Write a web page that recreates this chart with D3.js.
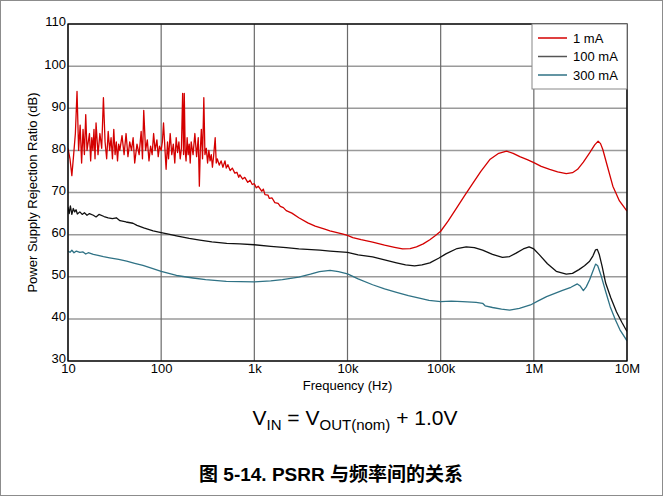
<!DOCTYPE html>
<meta charset="utf-8">
<style>
body { margin: 0; background: #fff; }
svg { display: block; font-family: "Liberation Sans", Arial, sans-serif; }
.tick text { font-size: 13px; fill: #000; }
</style>
<svg width="663" height="496"></svg>
<script src="https://cdn.jsdelivr.net/npm/d3@7/dist/d3.min.js"></script>
<script>

// x ticks (Hz) and labels
var xTicks = [10, 100, 1e3, 1e4, 1e5, 1e6, 1e7]
var xLabels = ["10", "100", "1k", "10k", "100k", "1M", "10M"]
var yTicks = [30, 40, 50, 60, 70, 80, 90, 100, 110]

var seriesNames = ["1 mA", "100 mA", "300 mA"]
var seriesColors = ["#d40000", "#111111", "#2f7285"]
var legendColors = ["#d40000", "#555555", "#2f7285"]

// 1 mA : [frequency Hz, PSRR dB]
var psrr1mA = [
  [10,80.5],[10.5,78],[11,74],[11.5,79],[12,84],[12.5,94],[13,80],[13.5,86],[14,77],[14.5,85],
  [15,79],[15.5,88.5],[16,80],[17,84],[17.5,77.5],[18,83],[18.5,80],[19,85],[19.5,78],[20,86.5],
  [21,79],[22,84],[23,80.5],[24,92.5],[25,82],[26,78],[27,84.5],[28,80],[29,83],[30,78],
  [31,85],[32,79],[33,82],[34,77.5],[35,81.5],[36,80],[38,83.5],[40,79],[42,84],[44,78.5],
  [46,82],[48,80],[50,83],[52,77],[55,81.5],[58,79],[61,84.5],[63,78],[65,89.5],[68,80],
  [71,82.5],[74,77.5],[77,81],[80,79],[83,84],[86,80],[90,82.5],[93,78.5],[96,81],[100,80],
  [103,82],[106,86.5],[110,80],[113,75.5],[117,82],[120,78],[125,84],[130,79],[135,81.5],[140,77],
  [145,83],[150,79.5],[155,82],[160,78],[165,80.5],[170,93.5],[174,79],[177,93.5],[181,80],[185,77.5],
  [190,83],[195,79],[200,81.5],[205,77],[210,82],[220,79],[230,84],[240,78.5],[250,83],[257,71.5],
  [263,80],[270,85],[278,78],[287,92.5],[295,79],[305,80.5],[315,77],[325,80],[335,77.5],[345,79],
  [355,76],[365,78.5],[380,83],[390,77],[400,78],[420,76.5],[440,77.5],[460,76],[484,77.5],[500,75.8],
  [520,76.6],[550,75.2],[580,75.8],[617,74.6],[650,74.8],[680,73.6],[700,74.2],[750,73.2],[790,73.6],[850,72.4],
  [900,72.9],[950,71.9],[1000,72.1],[1050,71.1],[1100,71.5],[1200,70.3],[1250,70.8],[1300,69.5],[1400,69.4],[1450,68.6],
  [1550,68.7],[1660,67.6],[1800,67.4],[1900,66.7],[2050,66.4],[2200,65.7],[2530,65.1],[3000,64],[3750,62.8],
  [4500,62],[5700,61.3],[6470,60.9],[8770,60.2],[10000,59.8],[11400,59.3],[14000,58.8],[18600,58.2],[25000,57.5],[32000,57],
  [39000,56.6],[47000,56.7],[55000,57.1],[65000,57.8],[76500,58.8],[88000,59.8],[100000,60.8],[120000,63.2],[148000,66.3],[180000,69.2],
  [223000,72.3],[270000,75],[340000,77.9],[420000,79.3],[510000,79.8],[600000,79.3],[707000,78.5],[850000,77.8],[1000000,77.1],[1200000,76.2],
  [1480000,75.5],[1800000,74.9],[2230000,74.5],[2600000,74.7],[2950000,75.5],[3400000,77.2],[3970000,79.4],[4500000,81.3],[4900000,82.2],[5200000,81.6],
  [5500000,80.2],[6200000,76],[7050000,71.5],[8300000,68],[10000000,65.6]
]

// 100 mA
var psrr100mA = [
  [10,66.5],[10.3,65],[10.6,66.8],[11,64.8],[11.4,66.2],[11.8,65.4],[12.2,65.9],[12.6,64.9],[13.4,65.4],[14.2,64.8],
  [15,65.2],[16,64.6],[17,65],[18.7,64.6],[20,64.2],[21.5,64.8],[24.4,64.3],[27,64],[30,63.8],[33,64],
  [36.1,63.3],[42,63],[49.8,62.7],[55,62.2],[65,61.6],[82,60.9],[100,60.5],[120,60.1],[146,59.7],[200,59.1],
  [260,58.7],[350,58.3],[505,57.9],[700,57.8],[1000,57.6],[1500,57.2],[2200,56.9],[3000,56.6],[5050,56.3],[6500,56.1],
  [10000,55.8],[13000,55.2],[18600,54.7],[25000,54],[33600,53.3],[42000,52.8],[52500,52.6],[63000,52.8],[76500,53.3],[95000,54.4],
  [115000,55.5],[150000,56.7],[188000,57.1],[230000,56.9],[282000,56.3],[360000,55.3],[460000,54.6],[550000,54.8],[645000,55.6],[770000,56.6],
  [890000,57.1],[1000000,56.6],[1150000,55.2],[1400000,53.1],[1740000,51.3],[2230000,50.6],[2600000,50.8],[3050000,51.7],[3500000,52.6],[3970000,53.7],
  [4300000,54.9],[4600000,56.4],[4800000,56.5],[5050000,55.2],[5400000,52.5],[5900000,48.5],[6700000,45],[7700000,41.7],[8800000,39.2],[10000000,37]
]

// 300 mA
var psrr300mA = [
  [10,56.1],[10.5,55.8],[11,56.3],[11.6,55.7],[12.3,56.1],[13.4,55.8],[14.5,55.9],[15.5,55.4],[16.5,55.7],[18.7,55.3],
  [21,55.1],[24,54.8],[28,54.5],[35,54.1],[42.6,53.7],[52,53.2],[63.7,52.7],[80,52],[100,51.3],[146,50.3],
  [220,49.7],[300,49.3],[500,48.9],[1000,48.8],[1500,49],[2000,49.3],[3000,49.9],[4000,50.6],[5000,51.2],[6500,51.5],
  [8000,51.2],[10000,50.7],[13000,49.5],[18600,48.1],[25000,47.1],[33600,46.3],[45000,45.5],[59000,44.9],[75000,44.4],[100000,44.1],
  [130000,44.2],[172000,44.1],[240000,43.9],[282000,43.7],[300000,43.1],[360000,42.7],[450000,42.3],[550000,42.1],[700000,42.5],[920000,43.3],
  [1100000,44.2],[1370000,45.3],[2000000,46.7],[2500000,47.5],[2930000,48.3],[3150000,47.8],[3400000,46.7],[3650000,47.6],[3970000,49.3],[4300000,51.3],
  [4600000,53],[4850000,52.6],[5300000,50.1],[5900000,46.5],[6600000,42.9],[7500000,39.8],[8400000,37.4],[10000000,34.8]
]

var allSeries = [psrr1mA, psrr100mA, psrr300mA]

var svg = d3.select("svg")
var plotL = 68, plotR = 627, plotT = 24, plotB = 361

var x = d3.scaleLog().domain([10, 1e7]).range([plotL, plotR])
var y = d3.scaleLinear().domain([30, 110]).range([plotB, plotT])

// outer frame
svg.append("rect")
  .attr("x", 0.5).attr("y", 0.5).attr("width", 662).attr("height", 495)
  .attr("fill", "none").attr("stroke", "#8c8c8c")

// grid
svg.append("g").selectAll("line")
  .data(yTicks)
  .enter().append("line")
    .attr("x1", plotL).attr("x2", plotR)
    .attr("y1", function(d) { return y(d) }).attr("y2", function(d) { return y(d) })
    .attr("stroke", "#9a9a9a").attr("stroke-width", 1.5)

svg.append("g").selectAll("line")
  .data(xTicks)
  .enter().append("line")
    .attr("x1", function(d) { return x(d) }).attr("x2", function(d) { return x(d) })
    .attr("y1", plotT).attr("y2", plotB)
    .attr("stroke", "#6a6a6a").attr("stroke-width", 1.2)

svg.append("clipPath").attr("id", "clip")
  .append("rect").attr("x", plotL).attr("y", plotT).attr("width", plotR - plotL).attr("height", plotB - plotT)

var line = d3.line()
  .x(function(d) { return x(d[0]) })
  .y(function(d) { return y(d[1]) })

svg.append("g").attr("clip-path", "url(#clip)")
  .selectAll("path")
  .data(allSeries)
  .enter().append("path")
    .attr("d", line)
    .attr("fill", "none")
    .attr("stroke", function(d, i) { return seriesColors[i] })
    .attr("stroke-width", 1.3)
    .attr("stroke-linejoin", "round")

// plot frame
svg.append("rect")
  .attr("x", plotL).attr("y", plotT).attr("width", plotR - plotL).attr("height", plotB - plotT)
  .attr("fill", "none").attr("stroke", "#000").attr("stroke-width", 1.3)

// axes
var xAxis = svg.append("g")
  .attr("transform", "translate(0," + plotB + ")")
  .call(d3.axisBottom(x).tickValues(xTicks).tickSize(0).tickPadding(3)
    .tickFormat(function(d, i) { return xLabels[i] }))
xAxis.select(".domain").remove()

var yAxis = svg.append("g")
  .attr("transform", "translate(" + plotL + ",0)")
  .call(d3.axisLeft(y).tickValues(yTicks).tickSize(0).tickPadding(2))
yAxis.select(".domain").remove()
yAxis.selectAll("text").attr("dy", "0.15em")

svg.append("text")
  .attr("x", (plotL + plotR) / 2).attr("y", 390)
  .attr("text-anchor", "middle").attr("font-size", 13)
  .text("Frequency (Hz)")

svg.append("text")
  .attr("transform", "translate(37," + ((plotT + plotB) / 2) + ") rotate(-90)")
  .attr("text-anchor", "middle").attr("font-size", 13)
  .text("Power Supply Rejection Ratio (dB)")

// legend
var legend = svg.append("g").attr("transform", "translate(532,24)")
legend.append("rect")
  .attr("width", 95).attr("height", 65)
  .attr("fill", "#fff").attr("stroke", "#888")
var item = legend.selectAll(".item")
  .data(seriesNames)
  .enter().append("g")
    .attr("transform", function(d, i) { return "translate(0," + (14 + i * 18.5) + ")" })
item.append("line")
  .attr("x1", 6).attr("x2", 35)
  .attr("stroke", function(d, i) { return legendColors[i] })
  .attr("stroke-width", 1.5)
item.append("text")
  .attr("x", 41).attr("dy", "0.35em").attr("font-size", 13)
  .text(function(d) { return d })

// condition line
var cond = svg.append("text")
  .attr("x", 355).attr("y", 425)
  .attr("text-anchor", "middle").attr("font-size", 21)
cond.append("tspan").text("V")
cond.append("tspan").attr("font-size", 15).attr("dy", 5).text("IN")
cond.append("tspan").attr("dy", -5).text(" = V")
cond.append("tspan").attr("font-size", 15).attr("dy", 5).text("OUT(nom)")
cond.append("tspan").attr("dy", -5).text(" + 1.0V")

svg.append("text")
  .attr("x", 331).attr("y", 481)
  .attr("text-anchor", "middle").attr("font-size", 19).attr("font-weight", "bold")
  .attr("font-family", "'Liberation Sans', 'Noto Sans CJK SC', sans-serif")
  .text("图 5-14. PSRR 与频率间的关系")

</script>
